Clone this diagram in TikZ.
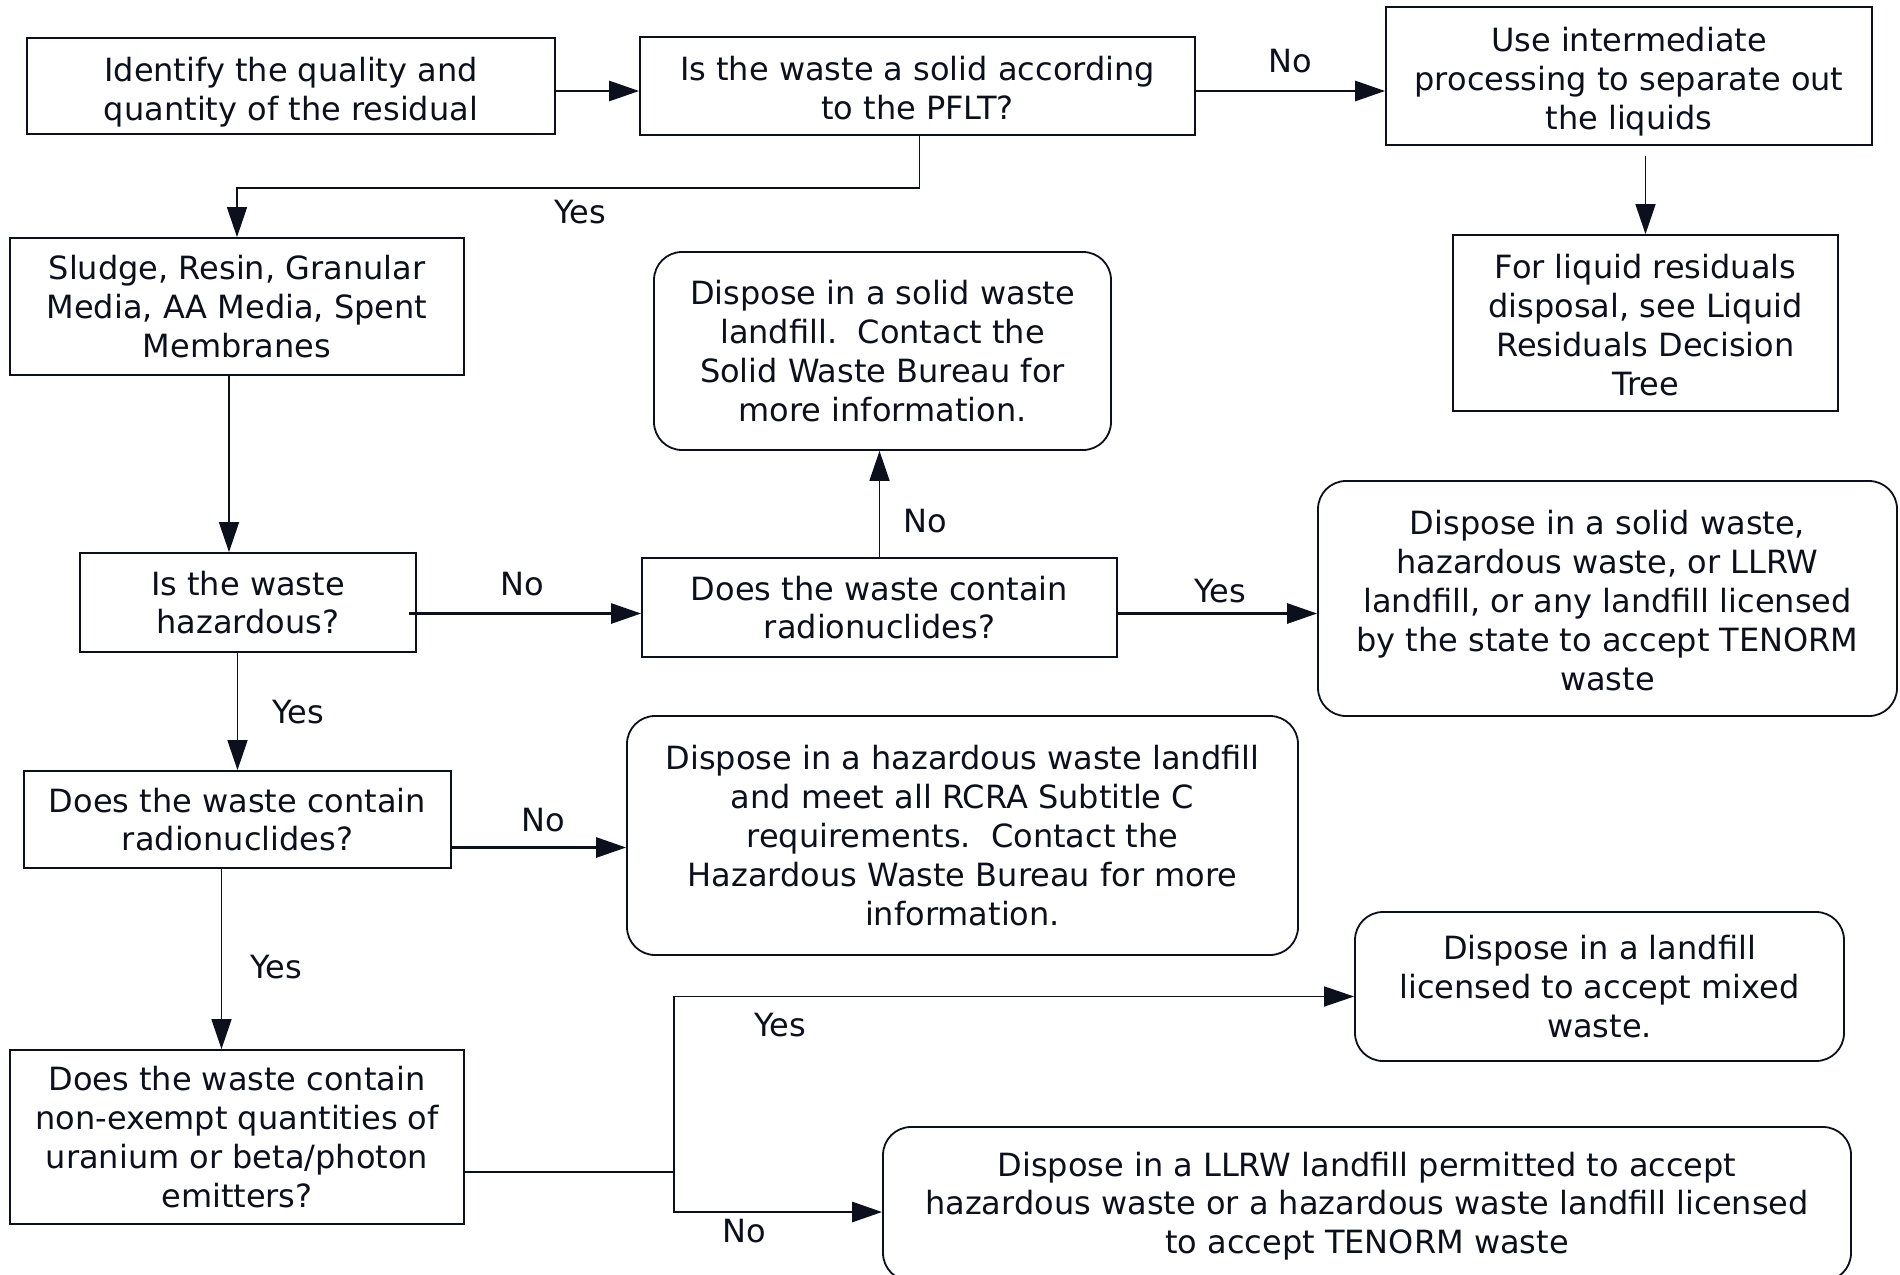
\documentclass[tikz,border=0pt]{standalone}
\usepackage{fontspec}
\setmainfont{DejaVu Sans}
\usetikzlibrary{arrows.meta}
\definecolor{ink}{RGB}{12,16,28}
\newcommand{\tpad}[1]{\rule{0pt}{#1}}
\tikzset{
  box/.style={draw=ink, line width=0.9pt, align=center, inner sep=0pt, text=ink,
    font=\fontsize{16}{19.4}\selectfont},
  rbox/.style={box, rounded corners=14pt},
  lbl/.style={text=ink, font=\fontsize{16}{19.4}\selectfont, inner sep=0pt},
  con/.style={draw=ink, line width=0.8pt},
  hcon/.style={draw=ink, line width=1.4pt},
  arr/.style={-{Triangle[length=15pt,width=10pt]}},
}
\begin{document}
\begin{tikzpicture}[x=0.5pt,y=-0.5pt]
\useasboundingbox (0,0) rectangle (1900,1274);
\fill[white] (0,0) rectangle (1900,1274);
% nodes
\node[box, minimum width=264pt, minimum height=48pt] (iden) at (291,86) {\tpad{18pt}Identify the quality and\\quantity of the residual};
\node[box, minimum width=277.5pt, minimum height=49pt] (pflt) at (917.5,86) {\tpad{14.2pt}Is the waste a solid according\\to the PFLT?};
\node[box, minimum width=243pt, minimum height=69pt] (inter) at (1629,76) {\tpad{18pt}Use intermediate\\processing to separate out\\the liquids};
\node[box, minimum width=192.5pt, minimum height=88pt] (liquid) at (1645.5,323) {\tpad{14.2pt}For liquid residuals\\disposal, see Liquid\\Residuals Decision\\Tree};
\node[box, minimum width=227pt, minimum height=68.5pt] (sludge) at (237,306.5) {Sludge, Resin, Granular\\Media, AA Media, Spent\\Membranes};
\node[rbox, minimum width=228.5pt, minimum height=99pt] (solid) at (882.5,351) {Dispose in a solid waste\\landfill.\ \ Contact the\\Solid Waste Bureau for\\more information.};
\node[box, minimum width=168pt, minimum height=49.5pt] (haz) at (248,602.5) {Is the waste\\hazardous?};
\node[box, minimum width=237.5pt, minimum height=49.5pt] (rad1) at (879.5,607.5) {Does the waste contain\\radionuclides?};
\node[rbox, minimum width=289.5pt, minimum height=117.5pt] (tenorm) at (1607.5,598.5) {\tpad{14.2pt}Dispose in a solid waste,\\hazardous waste, or LLRW\\landfill, or any landfill licensed\\by the state to accept TENORM\\waste};
\node[box, minimum width=213.5pt, minimum height=48.5pt] (rad2) at (237.5,819.5) {Does the waste contain\\radionuclides?};
\node[rbox, minimum width=335.5pt, minimum height=119.5pt] (hazl) at (962.5,835.5) {Dispose in a hazardous waste landfill\\and meet all RCRA Subtitle C\\requirements.\ \ Contact the\\Hazardous Waste Bureau for more\\information.};
\node[box, minimum width=227pt, minimum height=87pt] (uran) at (237,1137) {Does the waste contain\\non-exempt quantities of\\uranium or beta/photon\\emitters?};
\node[rbox, minimum width=244.5pt, minimum height=74.5pt] (mixed) at (1599.5,986.5) {Dispose in a landfill\\licensed to accept mixed\\waste.};
\node[rbox, minimum width=484pt, minimum height=77pt] (llrw) at (1367,1204) {\tpad{14.2pt}Dispose in a LLRW landfill permitted to accept\\hazardous waste or a hazardous waste landfill licensed\\to accept TENORM waste};
\coordinate (sp) at (674,1172);
% labels
\node[lbl] (l1) at (1290,61) {No};
\node[lbl] (l2) at (580,212) {Yes};
\node[lbl] (l3) at (925,521) {No};
\node[lbl] (l4) at (522,584) {No};
\node[lbl] (l5) at (1220,591) {Yes};
\node[lbl] (l6) at (298,712) {Yes};
\node[lbl] (l7) at (543,820) {No};
\node[lbl] (l8) at (276,967) {Yes};
\node[lbl] (l9) at (780,1025) {Yes};
\node[lbl] (l10) at (744,1231) {No};
% connectors
\draw[hcon,arr] ([yshift=-2.5pt]iden.east) -- ([yshift=-2.5pt]iden.east -| pflt.west);
\draw[hcon,arr] ([yshift=-2.5pt]pflt.east) -- ([yshift=-2.5pt]pflt.east -| inter.west);
\draw[con,arr] ([yshift=-5pt]inter.south -| liquid.north) -- (liquid.north);
\draw[con,arr] ([xshift=1pt]pflt.south) -- ++(0,52) -| (sludge.north);
\draw[con,arr] ([xshift=-4pt]sludge.south) -- ([xshift=-4pt]sludge.south |- haz.north);
\draw[hcon,arr] ([yshift=-5.5pt,xshift=-4pt]haz.east) -- ([yshift=-5.5pt]haz.east -| rad1.west);
\draw[con,arr] (rad1.north) -- (rad1.north |- solid.south);
\draw[hcon,arr] ([yshift=-3pt]rad1.east) -- ([yshift=-3pt]rad1.east -| tenorm.west);
\draw[con,arr] (rad2.north |- haz.south) -- (rad2.north);
\draw[hcon,arr] ([yshift=-14pt]rad2.east) -- ([yshift=-14pt]rad2.east -| hazl.west);
\draw[con,arr] ([xshift=-8pt]rad2.south) -- ([xshift=-8pt]rad2.south |- uran.north);
\draw[hcon] (uran.east |- sp) -- (sp);
\draw[con,arr] (sp) |- ([yshift=-5pt]mixed.west);
\draw[hcon,arr] (sp) |- ([yshift=-4pt]llrw.west);
\end{tikzpicture}
\end{document}
